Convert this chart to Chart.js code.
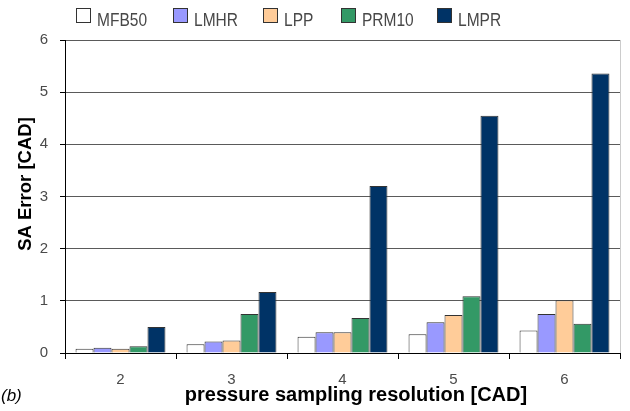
<!DOCTYPE html>
<html>
<head>
<meta charset="utf-8">
<style>
  html, body { margin: 0; padding: 0; background: #ffffff; }
  #wrap { width: 630px; height: 411px; position: relative; }
</style>
<script src="https://cdn.jsdelivr.net/npm/chart.js@4/dist/chart.umd.min.js"></script>
</head>
<body>
<div id="wrap"><canvas id="c" width="630" height="411"></canvas></div>
<script>
// Sampling resolution categories (CAD)
const resolutions = ['2', '3', '4', '5', '6'];

// SA error per method (CAD)
const mfb50 = [0.08, 0.17, 0.31, 0.36, 0.43];
const lmhr  = [0.10, 0.22, 0.40, 0.59, 0.75];
const lpp   = [0.08, 0.24, 0.40, 0.73, 1.01];
const prm10 = [0.13, 0.75, 0.67, 1.09, 0.56];
const lmpr  = [0.50, 1.17, 3.20, 4.55, 5.36];

const seriesNames = ['MFB50', 'LMHR', 'LPP', 'PRM10', 'LMPR'];
const yTicks = [0, 1, 2, 3, 4, 5, 6];

const fills = ['#ffffff', '#9999ff', '#ffcc99', '#339966', '#003366'];
const FONT = '"Liberation Sans", Arial, sans-serif';

// Legend row across the top
const topLegend = {
  id: 'topLegend',
  afterDraw(chart) {
    const ctx = chart.ctx;
    const xs = [76, 173, 263, 341, 437];
    ctx.save();
    chart.data.datasets.forEach((ds, i) => {
      ctx.fillStyle = ds.backgroundColor;
      ctx.fillRect(xs[i] + 0.5, 8.5, 14, 14);
      ctx.strokeStyle = '#333333';
      ctx.lineWidth = 1;
      ctx.strokeRect(xs[i] + 0.5, 8.5, 14, 14);
      ctx.fillStyle = '#484848';
      ctx.font = '16px ' + FONT;
      ctx.textBaseline = 'alphabetic';
      ctx.textAlign = 'left';
      ctx.save();
      ctx.translate(xs[i] + 21, 26);
      ctx.scale(0.97, 1.12);
      ctx.fillText(ds.label, 0, 0);
      ctx.restore();
    });
    ctx.restore();
  }
};

// Axis titles, panel tag and right frame edge
const extras = {
  id: 'extras',
  afterDraw(chart) {
    const ctx = chart.ctx;
    const a = chart.chartArea;
    ctx.save();
    ctx.strokeStyle = '#cccccc';
    ctx.lineWidth = 1;
    ctx.beginPath();
    ctx.moveTo(Math.round(a.right) + 0.5, a.top);
    ctx.lineTo(Math.round(a.right) + 0.5, a.bottom);
    ctx.stroke();

    ctx.fillStyle = '#000000';
    ctx.font = 'bold 20px ' + FONT;
    ctx.textAlign = 'center';
    ctx.textBaseline = 'alphabetic';
    ctx.fillText('pressure sampling resolution [CAD]', 356, 401);

    ctx.save();
    ctx.translate(31, 184);
    ctx.rotate(-Math.PI / 2);
    ctx.font = 'bold 18.5px ' + FONT;
    ctx.fillText('SA Error [CAD]', 0, 0);
    ctx.restore();

    ctx.font = 'italic 17px ' + FONT;
    ctx.textAlign = 'left';
    ctx.fillText('(b)', 1, 401);
    ctx.restore();
  }
};

const data = {
  labels: resolutions,
  datasets: [mfb50, lmhr, lpp, prm10, lmpr].map((vals, i) => ({
    label: seriesNames[i],
    data: vals,
    backgroundColor: fills[i],
    borderColor: '#333333',
    borderWidth: 1,
    borderSkipped: 'bottom',
    categoryPercentage: 0.81,
    barPercentage: 1.0
  }))
};

new Chart(document.getElementById('c'), {
  type: 'bar',
  data,
  options: {
    responsive: false,
    animation: false,
    devicePixelRatio: 1,
    layout: { padding: { top: 40, right: 10, left: 0, bottom: 0 } },
    plugins: {
      legend: { display: false },
      tooltip: { enabled: false }
    },
    scales: {
      x: {
        afterFit(scale) { scale.height = 58; },
        grid: {
          display: true,
          offset: true,
          drawOnChartArea: false,
          drawTicks: true,
          tickLength: 6,
          tickColor: '#000000'
        },
        border: { display: true, color: '#000000', width: 1 },
        ticks: {
          color: '#4a4a4a',
          font: { family: FONT, size: 15 },
          padding: 12
        }
      },
      y: {
        min: 0,
        max: 6,
        afterFit(scale) { scale.width = 65; },
        afterBuildTicks(scale) { scale.ticks = yTicks.map(v => ({ value: v })); },
        grid: {
          color: '#5a5a5a',
          lineWidth: 1,
          drawTicks: true,
          tickLength: 5,
          tickColor: '#000000'
        },
        border: { display: true, color: '#000000', width: 1 },
        ticks: {
          color: '#4a4a4a',
          font: { family: FONT, size: 15 },
          padding: 12
        }
      }
    }
  },
  plugins: [topLegend, extras]
});
</script>
</body>
</html>
